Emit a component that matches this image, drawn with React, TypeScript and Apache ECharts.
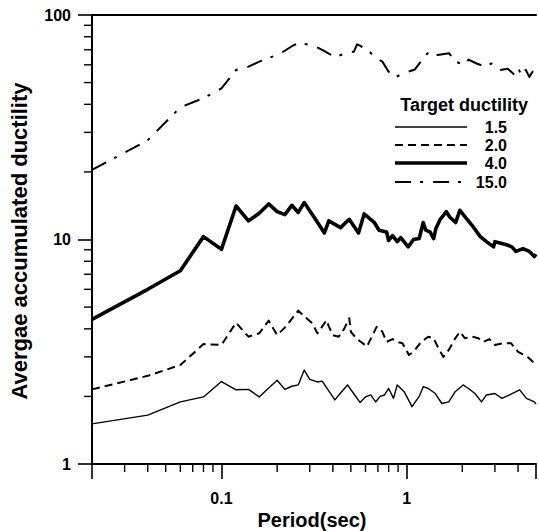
import React, { useEffect, useRef } from "react";
import * as echarts from "echarts";

// Period (sec) and average accumulated ductility for each target ductility
const period15 = [0.02,0.04,0.06,0.08,0.1,0.12,0.14,0.16,0.18,0.2,0.22,0.24,0.26,0.28,0.3,0.33,0.35,0.41,0.44,0.48,0.52,0.56,0.6,0.64,0.68,0.72,0.76,0.8,0.85,0.89,0.97,1.07,1.17,1.23,1.31,1.43,1.55,1.69,1.83,2.02,2.16,2.34,2.54,2.7,3.0,3.27,3.6,4.08,4.44,4.9,5.0];
const duct15 = [1.51,1.65,1.89,1.99,2.33,2.14,2.15,1.99,2.18,2.36,2.15,2.22,2.25,2.62,2.38,2.32,2.34,1.93,2.07,2.25,2.05,1.88,1.99,2.03,1.89,2.0,2.03,2.17,1.96,2.25,2.1,1.8,2.0,2.21,2.17,2.06,1.86,1.89,2.1,2.25,2.17,2.06,1.89,2.03,2.06,1.96,2.03,2.14,1.96,1.89,1.85];

const period20 = [0.02,0.04,0.06,0.08,0.1,0.12,0.14,0.16,0.18,0.2,0.22,0.26,0.28,0.31,0.33,0.37,0.38,0.4,0.43,0.46,0.49,0.5,0.54,0.58,0.61,0.65,0.69,0.74,0.78,0.84,0.89,0.95,1.03,1.09,1.2,1.31,1.4,1.48,1.58,1.69,1.82,1.94,2.07,2.25,2.44,2.6,2.8,3.0,3.3,3.67,4.0,4.5,4.9,5.0];
const duct20 = [2.15,2.47,2.76,3.42,3.39,4.26,3.69,3.82,4.35,3.75,4.05,4.82,4.55,4.23,3.82,4.37,4.1,3.75,3.69,4.0,4.46,3.88,3.6,3.45,3.33,3.7,4.09,3.88,3.5,3.6,3.5,3.45,3.06,3.16,3.5,3.69,3.63,3.3,3.0,3.22,3.6,3.88,3.63,3.7,3.63,3.5,3.6,3.39,3.45,3.45,3.16,3.0,2.81,2.78];

const period40 = [0.02,0.04,0.06,0.08,0.1,0.12,0.14,0.16,0.18,0.2,0.22,0.24,0.26,0.28,0.32,0.36,0.38,0.44,0.49,0.55,0.59,0.67,0.71,0.78,0.8,0.84,0.89,0.93,1.02,1.09,1.17,1.23,1.27,1.34,1.4,1.44,1.52,1.64,1.71,1.84,1.94,2.07,2.25,2.5,2.7,2.95,3.0,3.27,3.5,3.7,3.9,4.25,4.6,4.9,5.0];
const duct40 = [4.41,6.0,7.26,10.3,9.04,14.1,12.1,13.1,14.4,13.3,12.9,14.2,13.2,14.6,12.4,10.7,12.1,11.3,12.3,10.7,13.0,11.9,11.0,10.8,9.9,10.4,9.78,10.2,9.27,10.0,10.1,11.9,11.0,10.8,10.1,11.2,12.3,13.3,12.6,11.9,13.5,12.6,11.6,10.3,9.78,9.27,9.78,9.6,9.45,9.27,8.85,9.1,8.85,8.4,8.6];

const period150 = [0.02,0.04,0.06,0.08,0.1,0.12,0.14,0.16,0.18,0.2,0.22,0.24,0.26,0.28,0.31,0.35,0.41,0.47,0.52,0.54,0.56,0.63,0.68,0.74,0.8,0.87,0.98,1.11,1.21,1.3,1.33,1.47,1.7,1.83,2.07,2.16,2.39,2.65,2.87,3.18,3.52,3.8,4.0,4.2,4.4,4.6,4.8,5.0];
const duct150 = [20.4,27.7,38.8,42.6,47.1,56.9,58.9,62.0,64.3,66.4,69.3,72.6,75.1,74.3,73.5,70.0,65.0,67.5,68.7,74.0,73.0,68.7,64.3,62.0,55.9,52.9,55.3,57.2,62.9,67.6,65.5,66.4,67.5,62.0,59.8,63.3,60.8,58.9,60.8,56.9,57.6,54.5,58.0,53.5,57.0,53.0,56.0,54.0];

const targetLabels = ["1.5", "2.0", "4.0", "15.0"];
const xMinorTicks = [0.03,0.04,0.05,0.06,0.07,0.08,0.09,0.2,0.3,0.4,0.5,0.6,0.7,0.8,0.9,2,3,4];
const yMinorTicks = [2,3,4,5,6,7,8,9,20,30,40,50,60,70,80,90];

const FONT = "'Liberation Sans', Arial, Helvetica, sans-serif";

const zip = (xs: number[], ys: number[]) => xs.map((x, i) => [x, ys[i]]);

const fmt = (v: number) => {
  const e = Math.log10(v);
  if (Math.abs(e - Math.round(e)) > 1e-6) return "";
  return String(Number(v.toPrecision(6)));
};

export default function App() {
  const ref = useRef<HTMLDivElement>(null);
  useEffect(() => {
    if (!ref.current) return;
    const chart = echarts.init(ref.current, undefined, { renderer: "svg" });
    const lineStyles: any[] = [
      { width: 1.4, type: "solid" },
      { width: 2, type: [8, 5] },
      { width: 3.6, type: "solid" },
      { width: 2, type: [16, 9, 3, 10] },
    ];
    const datasets = [zip(period15, duct15), zip(period20, duct20), zip(period40, duct40), zip(period150, duct150)];
    const legendY = [127, 145, 163, 182];
    const legendGraphics: any[] = [
      {
        type: "text", x: 528, y: 105,
        style: { text: "Target ductility", align: "right", verticalAlign: "middle", font: `bold 18px ${FONT}`, fill: "#000" },
      },
    ];
    targetLabels.forEach((lab, i) => {
      legendGraphics.push({
        type: "line",
        shape: { x1: 395, y1: legendY[i], x2: 467, y2: legendY[i] },
        style: {
          stroke: "#000",
          lineWidth: lineStyles[i].width,
          lineDash: Array.isArray(lineStyles[i].type) ? lineStyles[i].type : null,
        },
      });
      legendGraphics.push({
        type: "text", x: 507, y: legendY[i],
        style: { text: lab, align: "right", verticalAlign: "middle", font: `bold 16px ${FONT}`, fill: "#000" },
      });
    });

    const option: any = {
      animation: false,
      backgroundColor: "#fff",
      grid: { left: 92, top: 15, width: 448, height: 449, containLabel: false },
      xAxis: [
        {
          type: "log", logBase: 10, min: 0.02, max: 5, position: "bottom",
          axisLine: { show: true, lineStyle: { color: "#000", width: 2 } },
          axisTick: { show: true, inside: false, length: 15, lineStyle: { color: "#000", width: 1.6 } },
          axisLabel: { formatter: fmt, margin: 26, color: "#000", fontFamily: FONT, fontWeight: "bold", fontSize: 16 },
          splitLine: { show: false }, minorTick: { show: false },
        },
        {
          type: "log", logBase: 10, min: 0.02, max: 5, position: "top",
          axisLine: { show: true, lineStyle: { color: "#000", width: 2 } },
          axisTick: { show: false }, axisLabel: { show: false }, splitLine: { show: false },
        },
      ],
      yAxis: [
        {
          type: "log", logBase: 10, min: 1, max: 100, position: "left",
          axisLine: { show: true, lineStyle: { color: "#000", width: 2 } },
          axisTick: { show: true, inside: false, length: 14, lineStyle: { color: "#000", width: 1.6 } },
          axisLabel: { formatter: fmt, margin: 21, color: "#000", fontFamily: FONT, fontWeight: "bold", fontSize: 16 },
          splitLine: { show: false },
        },
      ],
      graphic: [
        {
          type: "text", x: 19, y: 241, rotation: Math.PI / 2,
          style: { text: "Avergae accumulated ductility", align: "center", verticalAlign: "middle", font: `bold 22px ${FONT}`, fill: "#000" },
        },
        {
          type: "text", x: 312, y: 520,
          style: { text: "Period(sec)", align: "center", verticalAlign: "middle", font: `bold 20px ${FONT}`, fill: "#000" },
        },
        ...legendGraphics,
      ],
      series: [
        ...datasets.map((d, i) => ({
          name: targetLabels[i],
          type: "line",
          xAxisIndex: 0, yAxisIndex: 0,
          data: d,
          showSymbol: false, symbol: "none",
          lineStyle: { color: "#000", width: lineStyles[i].width, type: lineStyles[i].type, join: "round" },
          clip: true,
        })),
        {
          type: "custom", name: "xminor", xAxisIndex: 0, yAxisIndex: 0, clip: false,
          data: xMinorTicks.map((v) => [v, 1]),
          renderItem: (params: any, api: any) => {
            const p = api.coord([api.value(0), api.value(1)]);
            return { type: "line", shape: { x1: p[0], y1: p[1], x2: p[0], y2: p[1] + 8 }, style: { stroke: "#000", lineWidth: 1.4 } };
          },
        },
        {
          type: "custom", name: "yminor", xAxisIndex: 0, yAxisIndex: 0, clip: false,
          data: yMinorTicks.map((v) => [0.02, v]),
          renderItem: (params: any, api: any) => {
            const p = api.coord([api.value(0), api.value(1)]);
            return { type: "line", shape: { x1: p[0] - 8, y1: p[1], x2: p[0], y2: p[1] }, style: { stroke: "#000", lineWidth: 1.4 } };
          },
        },
      ],
    };
    chart.setOption(option);
    return () => chart.dispose();
  }, []);
  return <div ref={ref} style={{ position: "fixed", left: 0, top: 0, width: 539, height: 531, background: "#fff" }} />;
}
